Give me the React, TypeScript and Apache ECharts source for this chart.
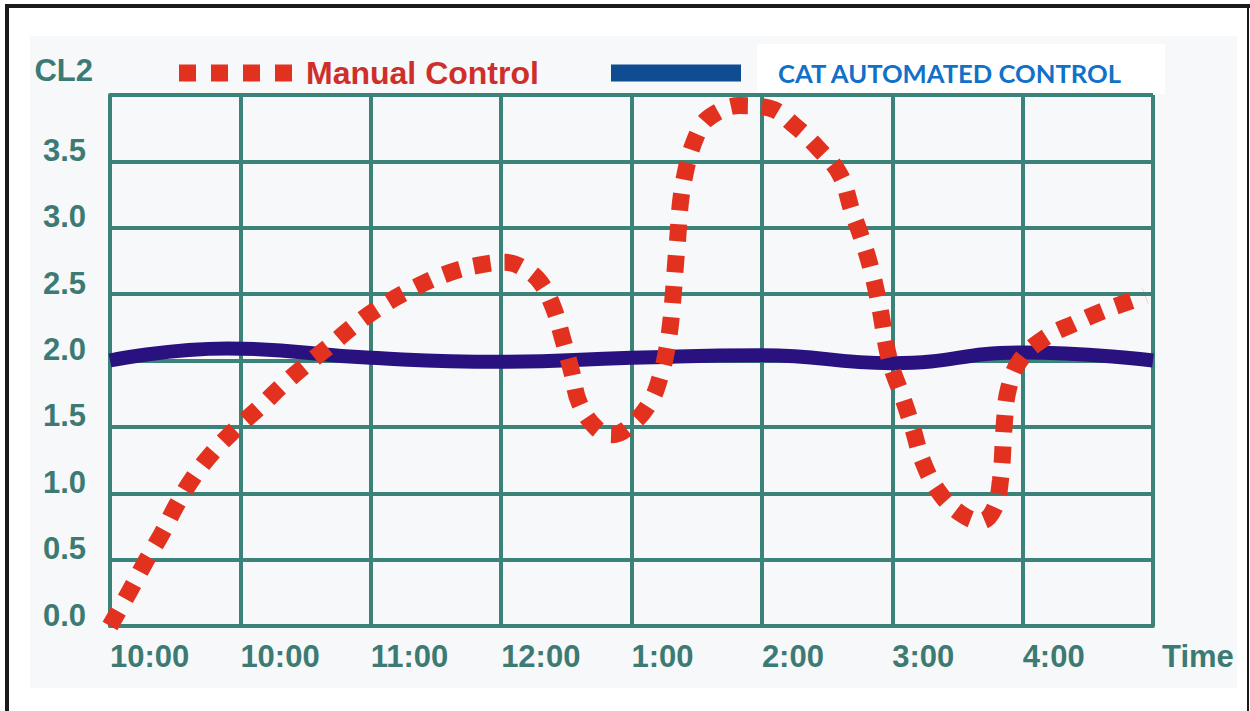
import React, { useEffect, useRef } from "react";
import * as echarts from "echarts";

const xTickLabels = ["10:00", "10:00", "11:00", "12:00", "1:00", "2:00", "3:00", "4:00"];
const yTickValues = [0, 0.5, 1, 1.5, 2, 2.5, 3, 3.5];

const manualX = [0, 0.15, 0.27, 0.4, 0.51, 0.64, 0.79, 0.97, 1.15, 1.33, 1.52, 1.71, 1.88, 2.1, 2.34, 2.6, 2.84, 3.03, 3.18, 3.3, 3.4, 3.47, 3.54, 3.6, 3.73, 3.85, 3.98, 4.14, 4.23, 4.28, 4.31, 4.35, 4.4, 4.52, 4.64, 4.83, 5.06, 5.25, 5.44, 5.6, 5.69, 5.77, 5.84, 5.9, 5.98, 6.08, 6.16, 6.23, 6.35, 6.52, 6.68, 6.78, 6.83, 6.86, 6.89, 6.98, 7.17, 7.4, 7.61, 7.86, 7.94];
const manualY = [0, 0.26, 0.48, 0.7, 0.91, 1.12, 1.31, 1.49, 1.65, 1.82, 1.98, 2.13, 2.27, 2.42, 2.55, 2.66, 2.72, 2.74, 2.69, 2.59, 2.4, 2.17, 1.92, 1.68, 1.49, 1.44, 1.5, 1.68, 1.91, 2.14, 2.38, 2.87, 3.35, 3.74, 3.86, 3.92, 3.9, 3.77, 3.59, 3.4, 3.13, 2.91, 2.68, 2.42, 2.0, 1.72, 1.48, 1.25, 1.02, 0.85, 0.79, 0.88, 1.1, 1.53, 1.78, 2.0, 2.17, 2.28, 2.37, 2.46, 2.49];

const autoX = [0, 0.9, 2, 3, 4, 5, 6, 7, 8];
const autoY = [2.0, 2.09, 2.02, 1.99, 2.02, 2.04, 1.98, 2.06, 2.0];

const TEAL_LINE = "#3b8379";
const TEAL_TEXT = "#3d7a73";
const RED = "#e2321f";
const NAVY = "#29117f";

export default function App() {
  const ref = useRef<HTMLDivElement>(null);
  useEffect(() => {
    if (!ref.current) return;
    const chart = echarts.init(ref.current, null, { renderer: "svg" });
    const labelFont = { fontFamily: "Liberation Sans", fontWeight: "bold" as const, fontSize: 31, color: TEAL_TEXT };
    chart.setOption({
      animation: false,
      backgroundColor: "#ffffff",
      graphic: [
        { type: "rect", z: -20, shape: { x: 30, y: 36, width: 1207, height: 652 }, style: { fill: "#f6f8f9" } },
        { type: "rect", z: -19, shape: { x: 757, y: 44, width: 408, height: 50 }, style: { fill: "#ffffff" } },
        { type: "rect", z: 100, shape: { x: 5, y: 4, width: 4, height: 707 }, style: { fill: "#1a1a1a" } },
        { type: "rect", z: 100, shape: { x: 5, y: 4, width: 1245, height: 4 }, style: { fill: "#1a1a1a" } },
        { type: "rect", z: 100, shape: { x: 1247, y: 4, width: 2, height: 707 }, style: { fill: "#1a1a1a" } },
      ],
      legend: [
        {
          left: 174,
          top: 50,
          itemWidth: 115,
          itemHeight: 17,
          selectedMode: false,
          data: [
            {
              name: "Manual Control",
              icon: "path://M0,0h17v17h-17z M32,0h17v17h-17z M64,0h17v17h-17z M96,0h17v17h-17z",
              itemStyle: { color: RED },
            },
          ],
          textStyle: {
            fontFamily: "Liberation Sans",
            fontWeight: "bold",
            fontSize: 32,
            lineHeight: 36,
            color: "#cf2f2a",
            padding: [0, 0, 0, 8],
          },
        },
        {
          left: 606,
          top: 50,
          itemWidth: 130,
          itemHeight: 17,
          selectedMode: false,
          data: [
            {
              name: "CAT AUTOMATED CONTROL",
              icon: "rect",
              itemStyle: { color: "#0f4c92" },
            },
          ],
          textStyle: {
            fontFamily: "Lato",
            fontWeight: "bold",
            fontSize: 25.6,
            lineHeight: 36,
            color: "#1170c8",
            padding: [0, 0, 0, 32],
          },
        },
      ],
      grid: { left: 110, right: 97, top: 95, bottom: 85, outerBoundsMode: "none" },
      xAxis: {
        type: "value",
        min: 0,
        max: 8,
        interval: 1,
        name: "Time",
        nameLocation: "end",
        nameGap: 9,
        nameTextStyle: { ...labelFont, align: "left", verticalAlign: "top", lineHeight: 60 },
        axisLine: { show: true, lineStyle: { color: TEAL_LINE, width: 4 } },
        axisTick: { show: false },
        splitLine: { show: true, lineStyle: { color: TEAL_LINE, width: 4 } },
        axisLabel: {
          ...labelFont,
          lineHeight: 36,
          align: "left",
          margin: 12,
          formatter: (v: number) => (v < xTickLabels.length ? xTickLabels[v] : ""),
        },
      },
      yAxis: {
        type: "value",
        min: 0,
        max: 4,
        interval: 0.5,
        name: "CL2",
        nameLocation: "end",
        nameGap: 25,
        nameTextStyle: { ...labelFont, align: "right", verticalAlign: "middle", padding: [0, 17, 0, 0] },
        axisLine: { show: true, lineStyle: { color: TEAL_LINE, width: 4 } },
        axisTick: { show: false },
        splitLine: { show: true, lineStyle: { color: TEAL_LINE, width: 4 } },
        axisLabel: {
          ...labelFont,
          margin: 24,
          verticalAlign: "bottom",
          lineHeight: 22,
          formatter: (v: number) => (yTickValues.indexOf(v) >= 0 ? v.toFixed(1) : ""),
        },
      },
      series: [
        {
          name: "CAT AUTOMATED CONTROL",
          type: "line",
          smooth: 0.5,
          showSymbol: false,
          z: 3,
          lineStyle: { color: NAVY, width: 14 },
          itemStyle: { color: NAVY },
          data: autoX.map((x, i) => [x, autoY[i]]),
        },
        {
          name: "Manual Control",
          type: "line",
          smooth: 0.4,
          showSymbol: false,
          z: 4,
          lineStyle: { color: RED, width: 17, type: [17, 14], cap: "butt" },
          itemStyle: { color: RED },
          data: manualX.map((x, i) => [x, manualY[i]]),
        },
      ],
    });
    return () => chart.dispose();
  }, []);
  return <div ref={ref} style={{ position: "fixed", left: 0, top: 0, width: 1250, height: 711 }} />;
}
